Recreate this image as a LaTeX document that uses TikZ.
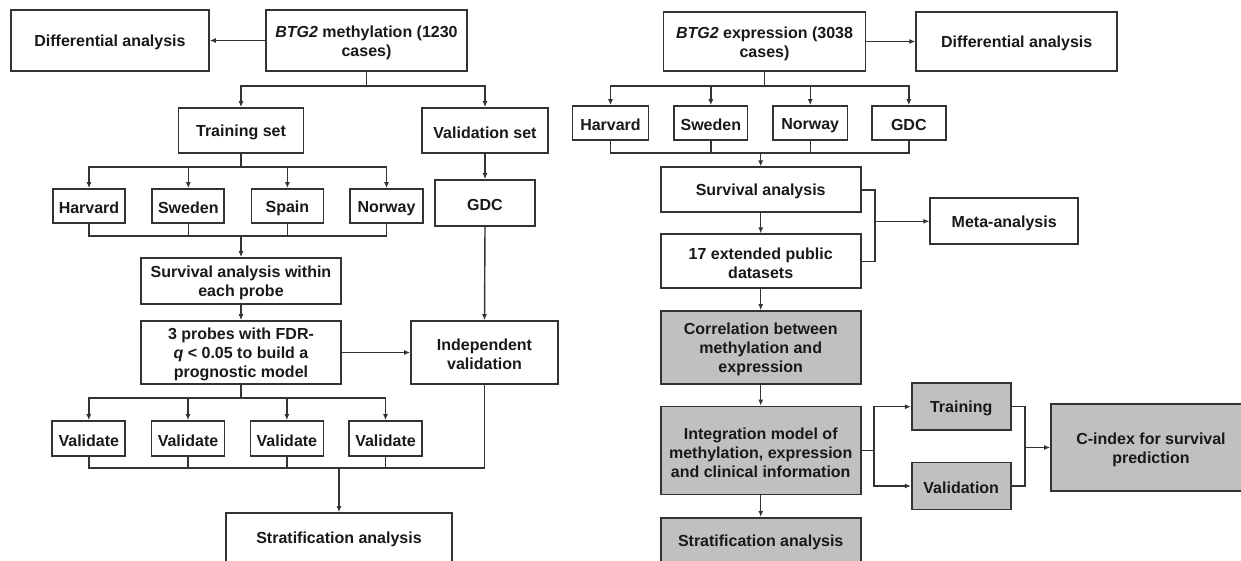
\documentclass[tikz,border=0pt]{standalone}
\usepackage{fontspec}
\setmainfont{Liberation Sans}
\usetikzlibrary{arrows.meta}
\definecolor{lncol}{HTML}{333333}
\definecolor{gfill}{HTML}{C0C0C0}
\newcommand{\fl}{\rule{0pt}{15.5pt}}
\tikzset{
  box/.style={draw=lncol, line width=1.7pt, fill=white, inner sep=0pt, align=center,
    font=\bfseries\fontsize{16}{19}\selectfont, text=black!90,
    execute at begin node={\rule{0pt}{15.5pt}}},
  gbox/.style={box, fill=gfill},
  wh/.style 2 args={minimum width=#1pt, minimum height=#2pt},
  ln/.style={draw=lncol, line width=1.4pt},
  arr/.style={ln, -{Latex[length=6pt,width=5pt]}}
}
\begin{document}
\begin{tikzpicture}[x=1pt,y=-1pt]
\useasboundingbox (0,0) rectangle (1241,560);
\clip (0,0) rectangle (1241,560);
\fill[white] (0,0) rectangle (1241,560);
% ---------- left ----------
\node[box, wh={198}{61}] (dL) at (110,40.5) {Differential analysis};
\node[box, wh={201}{61}] (bm) at (366.5,40.5) {\fl\textit{BTG2} methylation (1230\\cases)};
\node[box, wh={125}{45}] (ts) at (241,130.5) {Training set};
\node[box, wh={126}{45}] (vs) at (485,130.5) {Validation set};
\node[box, wh={72}{34}] (hL) at (89,206) {Harvard};
\node[box, wh={72}{34}] (swL) at (188.3,206) {Sweden};
\node[box, wh={72}{34}] (spL) at (287.4,206) {Spain};
\node[box, wh={73}{34}] (nL) at (386.5,206) {Norway};
\node[box, wh={100}{46}] (gL) at (485,203) {GDC};
\node[box, wh={200}{46}] (sa) at (241,281) {\fl Survival analysis within\\each probe};
\node[box, wh={200}{63}] (p3) at (241,352.5) {\fl 3 probes with FDR-\\\textit{q} < 0.05 to build a\\prognostic model};
\node[box, wh={147}{63}] (iv) at (484.5,352.5) {\fl Independent\\validation};
\node[box, wh={73}{35}] (v1) at (88.8,438.5) {Validate};
\node[box, wh={73}{35}] (v2) at (188,438.5) {Validate};
\node[box, wh={73}{35}] (v3) at (286.9,438.5) {Validate};
\node[box, wh={73}{35}] (v4) at (385.5,438.5) {Validate};
\node[box, wh={226}{49}] (stL) at (339,537.5) {Stratification analysis};
% ---------- right ----------
\node[box, wh={202}{59}] (be) at (764.5,41.5) {\fl\textit{BTG2} expression (3038\\cases)};
\node[box, wh={201}{59}] (dR) at (1016.7,41.5) {Differential analysis};
\node[box, wh={76}{34}] (hR) at (610.5,123) {Harvard};
\node[box, wh={73.5}{34}] (swR) at (710.8,123) {Sweden};
\node[box, wh={74.5}{34}] (nR) at (810.2,123) {Norway};
\node[box, wh={74}{34}] (gR) at (908.8,123) {GDC};
\node[box, wh={200}{45}] (saR) at (760.7,189.8) {Survival analysis};
\node[box, wh={200}{54}] (ext) at (760.7,261.2) {\fl 17 extended public\\datasets};
\node[box, wh={148}{46}] (meta) at (1004.2,221.3) {Meta-analysis};
\node[gbox, wh={200}{73}] (corr) at (760.7,347.5) {\fl Correlation between\\methylation and\\expression};
\node[gbox, wh={200}{88}] (integ) at (760.7,450.5) {\fl Integration model of\\methylation, expression\\and clinical information};
\node[gbox, wh={200}{46}] (stR) at (760.7,540.7) {Stratification analysis};
\node[gbox, wh={99}{47}] (train) at (961.2,406.7) {Training};
\node[gbox, wh={99}{47}] (valid) at (961.2,486) {Validation};
\node[gbox, wh={200}{87}] (cidx) at (1151,447.5) {\fl C-index for survival\\prediction};
% ---------- left connectors ----------
\draw[arr] (bm.west) -- (dL.east);
\draw[ln] (bm.south) -- ++(0,14) coordinate (j1);
\draw[arr] (j1) -| (ts.north);
\draw[arr] (j1) -| (vs.north);
\draw[ln] (ts.south) -- ++(0,13) coordinate (j2);
\foreach \n in {hL,swL,spL,nL} \draw[arr] (j2) -| (\n.north);
\coordinate (b1) at (0,236);
\draw[ln] (hL.south) -- (hL.south |- b1) -- (nL.south |- b1) -- (nL.south);
\draw[ln] (swL.south) -- (swL.south |- b1);
\draw[ln] (spL.south) -- (spL.south |- b1);
\draw[arr] (sa.north |- b1) -- (sa.north);
\draw[arr] (sa.south) -- (p3.north);
\draw[arr] (vs.south) -- (gL.north);
\draw[arr] (gL.south) -- (iv.north);
\draw[arr] (p3.east) -- (iv.west);
\draw[ln] (p3.south) -- ++(0,13) coordinate (j3);
\foreach \n in {v1,v2,v3,v4} \draw[arr] (j3) -| (\n.north);
\coordinate (b2) at (0,468);
\draw[ln] (v1.south) -- (v1.south |- b2) -- (iv.south |- b2) -- (iv.south);
\draw[ln] (v2.south) -- (v2.south |- b2);
\draw[ln] (v3.south) -- (v3.south |- b2);
\draw[ln] (v4.south) -- (v4.south |- b2);
\draw[arr] (stL.north |- b2) -- (stL.north);
% ---------- right connectors ----------
\draw[arr] (be.east) -- (dR.west);
\draw[ln] (be.south) -- ++(0,14) coordinate (j4);
\foreach \n in {hR,swR,nR,gR} \draw[arr] (j4) -| (\n.north);
\coordinate (b3) at (0,153);
\draw[ln] (hR.south) -- (hR.south |- b3) -- (gR.south |- b3) -- (gR.south);
\draw[ln] (swR.south) -- (swR.south |- b3);
\draw[ln] (nR.south) -- (nR.south |- b3);
\draw[arr] (saR.north |- b3) -- (saR.north);
\draw[arr] (saR.south) -- (ext.north);
\draw[arr] (ext.south) -- (corr.north);
\draw[arr] (corr.south) -- (integ.north);
\draw[arr] (integ.south) -- (stR.north);
\draw[ln] (saR.east) -- ++(13.6,0) coordinate (k1) -- (k1 |- ext.east) -- (ext.east);
\draw[arr] (k1 |- meta.west) -- (meta.west);
\draw[ln] (integ.east) -- ++(12.6,0) coordinate (k2);
\draw[arr] (k2) |- (train.west);
\draw[arr] (k2) |- (valid.west);
\draw[ln] (train.east) -- ++(13.3,0) coordinate (k3) -- (k3 |- valid.east) -- (valid.east);
\draw[arr] (k3 |- cidx.west) -- (cidx.west);
\end{tikzpicture}
\end{document}
